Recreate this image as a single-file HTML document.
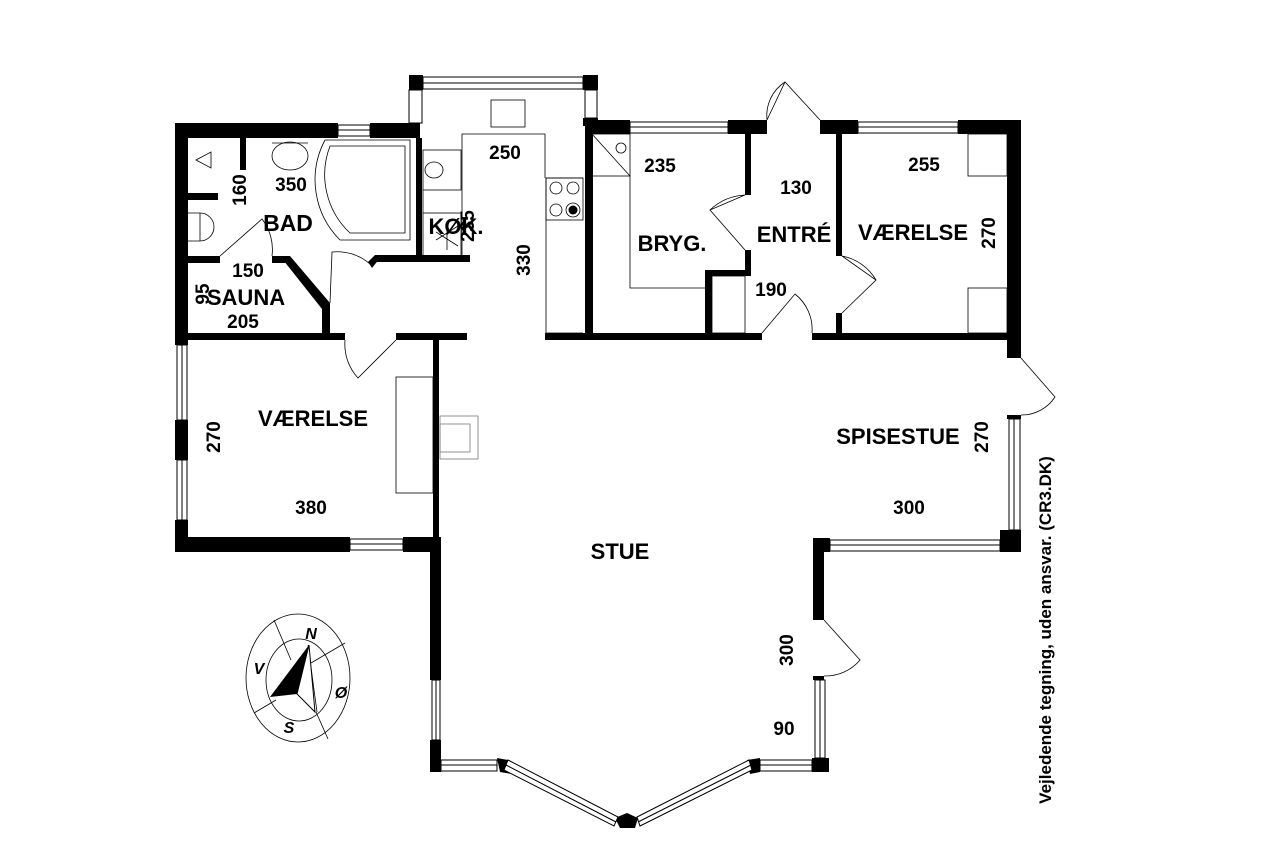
<!DOCTYPE html>
<html><head><meta charset="utf-8"><style>
body{margin:0;background:#fff}
svg{display:block}
text{font-family:"Liberation Sans",Arial,sans-serif;font-weight:bold;fill:#000}
.w{fill:#fff;stroke:#000;stroke-width:1}
.t{fill:none;stroke:#000;stroke-width:0.8}
</style></head><body>
<svg width="1280" height="853" viewBox="0 0 1280 853" xmlns="http://www.w3.org/2000/svg">
<rect width="1280" height="853" fill="#fff"/>
<g fill="#000">
<rect x="175" y="123" width="13" height="217"/>
<rect x="175" y="123" width="163" height="15"/>
<rect x="370" y="123" width="50" height="15"/>
<rect x="416" y="138" width="6" height="119"/>
<rect x="375" y="255" width="95" height="7"/>
<polygon points="368,262 375,255 380,258 372,268"/>
<rect x="188" y="193" width="30" height="7"/>
<rect x="240" y="138" width="6" height="32"/>
<rect x="188" y="256" width="32" height="7"/>
<rect x="272" y="256" width="14" height="7"/>
<polygon points="280,256 290,256 330,303 322,309"/>
<rect x="322" y="303" width="8" height="30"/>
<rect x="175" y="333" width="170" height="7"/>
<rect x="396" y="333" width="71" height="7"/>
<rect x="409" y="75" width="14" height="15"/>
<rect x="409" y="90" width="5" height="33"/>
<rect x="583" y="75" width="15" height="15"/>
<rect x="583" y="118" width="15" height="8"/>
<rect x="585" y="120" width="8" height="220"/>
<rect x="585" y="120" width="45" height="14"/>
<rect x="728" y="120" width="39" height="14"/>
<rect x="820" y="120" width="38" height="14"/>
<rect x="958" y="120" width="63" height="14"/>
<rect x="1007" y="120" width="14" height="238"/>
<rect x="745" y="134" width="6" height="61"/>
<rect x="745" y="250" width="6" height="26"/>
<rect x="705" y="270" width="46" height="6"/>
<rect x="705" y="270" width="7" height="68"/>
<rect x="836" y="134" width="6" height="122"/>
<rect x="836" y="313" width="6" height="25"/>
<rect x="545" y="333" width="217" height="7"/>
<rect x="812" y="333" width="209" height="7"/>
<rect x="1007" y="415" width="14" height="4"/>
<rect x="1000" y="530" width="21" height="22"/>
<rect x="813" y="538" width="17" height="14"/>
<rect x="813" y="538" width="11" height="82"/>
<rect x="813" y="676" width="11" height="4"/>
<rect x="812" y="758" width="17" height="14"/>
<rect x="433" y="340" width="6" height="200"/>
<rect x="175" y="537" width="175" height="15"/>
<rect x="403" y="537" width="38" height="15"/>
<rect x="175" y="340" width="13" height="5"/>
<rect x="175" y="420" width="13" height="40"/>
<rect x="175" y="520" width="13" height="32"/>
<rect x="430" y="540" width="11" height="140"/>
<rect x="430" y="740" width="11" height="32"/>
<polygon points="497,758 508,760 512,774 500,772"/>
<polygon points="615,818 627,813 638,818 635,828 620,828"/>
<polygon points="747,760 760,758 760,772 750,774"/>
</g>
<g class="w">
<rect x="338" y="125" width="32" height="11"/><line x1="338" y1="130" x2="370" y2="130" stroke="#000"/>
<rect x="423" y="77" width="160" height="12"/><line x1="423" y1="83" x2="583" y2="83" stroke="#000"/>
<rect x="409" y="90" width="13" height="33"/>
<rect x="585" y="90" width="12" height="28"/>
<rect x="630" y="122" width="98" height="11"/><line x1="630" y1="127" x2="728" y2="127" stroke="#000"/>
<rect x="858" y="122" width="100" height="11"/><line x1="858" y1="127" x2="958" y2="127" stroke="#000"/>
<rect x="1009" y="419" width="11" height="111"/><line x1="1014" y1="419" x2="1014" y2="530" stroke="#000"/>
<rect x="830" y="540" width="170" height="11"/><line x1="830" y1="545" x2="1000" y2="545" stroke="#000"/>
<rect x="815" y="680" width="10" height="78"/><line x1="820" y1="680" x2="820" y2="758" stroke="#000"/>
<rect x="177" y="345" width="10" height="75"/><line x1="182" y1="345" x2="182" y2="420" stroke="#000"/>
<rect x="177" y="460" width="10" height="60"/><line x1="182" y1="460" x2="182" y2="520" stroke="#000"/>
<rect x="350" y="539" width="53" height="11"/><line x1="350" y1="544" x2="403" y2="544" stroke="#000"/>
<rect x="432" y="680" width="8" height="60"/><line x1="436" y1="680" x2="436" y2="740" stroke="#000"/>
<rect x="441" y="760" width="56" height="11"/><line x1="441" y1="765" x2="497" y2="765" stroke="#000"/>
<rect x="760" y="760" width="52" height="11"/><line x1="760" y1="765" x2="812" y2="765" stroke="#000"/>
<polygon points="508,760 618,817 614,826 504,770"/><line x1="506" y1="765" x2="616" y2="822" stroke="#000"/>
<polygon points="637,817 749,760 752,770 640,826"/><line x1="638" y1="822" x2="751" y2="765" stroke="#000"/>
</g>
<g class="t">
<path d="M220,256 L262,219 A50,50 0 0 1 272,256"/>
<path d="M330,303 L332,252 A50,50 0 0 1 370,264"/>
<path d="M345,340 A50,50 0 0 0 358,378 L396,340"/>
<path d="M767,120 L785,82 L820,120 M767,120 A40,40 0 0 1 785,82"/>
<path d="M745,195 L710,210 L745,250 M745,195 A55,55 0 0 0 710,210"/>
<path d="M842,256 L876,280 L842,313 M842,256 A50,50 0 0 1 876,280"/>
<path d="M762,333 L795,294 A45,45 0 0 1 812,333"/>
<path d="M1021,358 L1055,397 A40,40 0 0 1 1021,415"/>
<path d="M824,620 L860,660 A45,45 0 0 1 824,676"/>
</g>
<g class="t">
<path d="M196,160 L211,152 L211,168 Z"/>
<ellipse cx="290" cy="156" rx="18" ry="14"/>
<path d="M272,143 L308,143"/>
<path d="M188,213 L200,213 A14,14 0 0 1 200,241 L188,241 M200,213 L200,241"/>
<path d="M325,140 L410,140 L410,240 L340,240 A85,85 0 0 1 325,140"/>
<path d="M330,146 L405,146 L405,233 L350,233 A80,80 0 0 1 330,146"/>
<rect x="423" y="150" width="38" height="40"/>
<rect x="423" y="213" width="38" height="44"/>
<ellipse cx="434" cy="170" rx="9" ry="8"/>
<path d="M423,190 L423,213"/>
<rect x="491" y="100" width="34" height="27"/>
<path d="M462,257 L462,134 L545,134 L545,178 M546,178 L583,178 M546,178 L546,333 L583,333"/>
<rect x="546" y="178" width="37" height="42"/>
<circle cx="556" cy="188" r="6"/><circle cx="573" cy="188" r="6"/><circle cx="556" cy="210" r="6"/><circle cx="573" cy="210" r="7"/>
<rect x="592" y="134" width="38" height="42"/>
<path d="M592,134 L630,176 M630,176 L630,288 L705,288"/>
<circle cx="621" cy="148" r="5"/>
<rect x="712" y="276" width="33" height="57"/>
<rect x="968" y="134" width="39" height="42"/>
<rect x="968" y="288" width="39" height="45"/>
<rect x="396" y="377" width="37" height="116"/>
<rect x="440" y="416" width="38" height="43" stroke="#777"/>
<rect x="440" y="424" width="30" height="28" stroke="#777"/>
</g>
<circle cx="573" cy="210" r="4.5" fill="#000"/>
<path d="M436,240 L458,226 M447,224 L447,250 M436,232 L458,246" class="t"/>
<g class="t" stroke-width="1">
<ellipse cx="298" cy="678" rx="52" ry="64"/>
<ellipse cx="299" cy="680" rx="33" ry="41"/>
<line x1="274" y1="620" x2="291" y2="660"/>
<line x1="345" y1="643" x2="311" y2="663"/>
<line x1="254" y1="713" x2="276" y2="700"/>
<line x1="316" y1="712" x2="328" y2="739"/>
<line x1="308" y1="645" x2="317" y2="712"/>
</g>
<polygon points="309,645 270,697 297,694" fill="#000"/>
<polygon points="309,645 297,694 315,712" fill="#fff" stroke="#000" stroke-width="1"/>
<text x="311" y="639" font-size="16" font-style="italic" text-anchor="middle">N</text>
<text x="259" y="674" font-size="16" font-style="italic" text-anchor="middle">V</text>
<text x="341" y="698" font-size="16" font-style="italic" text-anchor="middle">Ø</text>
<text x="289" y="733" font-size="16" font-style="italic" text-anchor="middle">S</text>
<g font-size="19" text-anchor="middle">
<text x="505" y="159">250</text>
<text x="291" y="191">350</text>
<text x="288" y="231" font-size="23">BAD</text>
<text transform="translate(246,190) rotate(-90)">160</text>
<text x="248" y="277">150</text>
<text x="246" y="305" font-size="22">SAUNA</text>
<text transform="translate(209,294) rotate(-90)">95</text>
<text x="243" y="328">205</text>
<text x="456" y="234" font-size="22">KØK.</text>
<text transform="translate(474,226) rotate(-90)">235</text>
<text transform="translate(530,260) rotate(-90)">330</text>
<text x="660" y="172">235</text>
<text x="672" y="251" font-size="22">BRYG.</text>
<text x="796" y="194">130</text>
<text x="794" y="242" font-size="22">ENTRÉ</text>
<text x="771" y="296">190</text>
<text x="924" y="171">255</text>
<text x="913" y="240" font-size="22">VÆRELSE</text>
<text transform="translate(995,233) rotate(-90)">270</text>
<text x="313" y="426" font-size="22">VÆRELSE</text>
<text transform="translate(220,437) rotate(-90)">270</text>
<text x="311" y="514">380</text>
<text x="620" y="559" font-size="22">STUE</text>
<text x="898" y="444" font-size="22">SPISESTUE</text>
<text transform="translate(988,437) rotate(-90)">270</text>
<text x="909" y="514">300</text>
<text transform="translate(793,650) rotate(-90)">300</text>
<text x="784" y="735">90</text>
<text transform="translate(1051,630) rotate(-90)" font-size="17">Vejledende tegning, uden ansvar. (CR3.DK)</text>
</g>
</svg>
</body></html>
